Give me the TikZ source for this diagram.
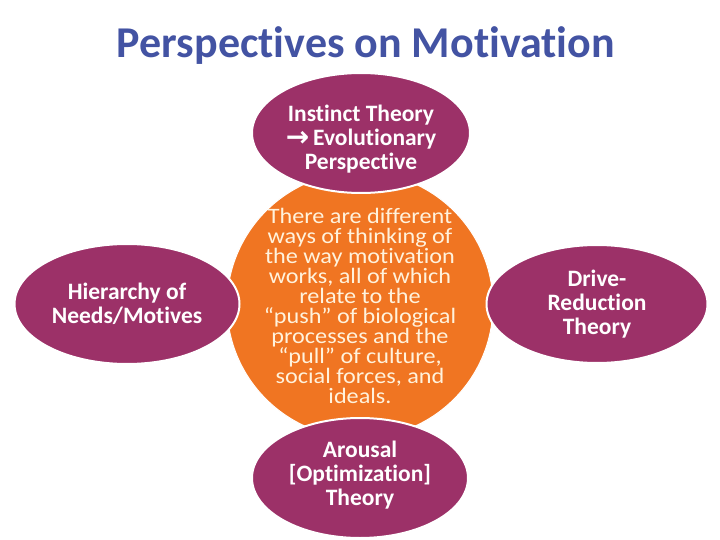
\documentclass[tikz,border=0pt]{standalone}
\usepackage{fontspec}
\setmainfont[Ligatures=NoCommon]{Carlito}
\newfontfamily\widefont[FakeStretch=1.1,Ligatures=NoCommon]{Carlito}
\newfontfamily\dv{DejaVu Sans}
\usetikzlibrary{shapes.geometric}
\definecolor{titleblue}{HTML}{4353A3}
\definecolor{plum}{HTML}{9C3168}
\definecolor{orng}{HTML}{F07522}
\definecolor{cream}{HTML}{FFF2DC}
\begin{document}
\begin{tikzpicture}[x=1pt,y=-1pt,
  petal/.style={ellipse, fill=plum, draw=white, line width=2pt, text=white, align=center,
    font=\fontsize{23.5}{24}\selectfont\bfseries, inner sep=0pt},
  hub/.style={circle, fill=orng, draw=white, line width=1pt, inner sep=0pt, minimum size=266pt},
  hubtextstyle/.style={text=cream, align=center, font=\widefont\fontsize{22}{20}\selectfont}]
\useasboundingbox (0,0) rectangle (720,540);
\node[font=\fontsize{44}{48}\selectfont\bfseries, text=titleblue] (title) at (366,46) {Perspectives on Motivation};
\node[hub] (hub) at (360,305) {};
\node[hubtextstyle] (hubtext) at (360,306) {There are different\\ways of thinking of\\the way motivation\\works, all of which\\relate to the\\“push” of biological\\processes and the\\“pull” of culture,\\social forces, and\\ideals.};
\node[petal, minimum width=218pt, minimum height=120pt] (top) at (361,133) {};
\node[text=white, align=center, font=\fontsize{23.5}{24}\selectfont\bfseries] (toptext) at (361,139) {Instinct Theory\\\raisebox{-1pt}{\dv\fontsize{28}{24}\selectfont →}\,Evolutionary\\Perspective};
\node[petal, minimum width=225pt, minimum height=120pt] (left) at (127,304) {Hierarchy of\\Needs/Motives};
\node[petal, minimum width=221pt, minimum height=118pt] (right) at (597,304) {Drive-\\Reduction\\Theory};
\node[petal, minimum width=216pt, minimum height=120pt] (bottom) at (360,478) {};
\node[text=white, align=center, font=\fontsize{23.5}{24}\selectfont\bfseries] (bottomtext) at (360,475) {Arousal\\{[Optimization]}\\Theory};
\end{tikzpicture}
\end{document}
